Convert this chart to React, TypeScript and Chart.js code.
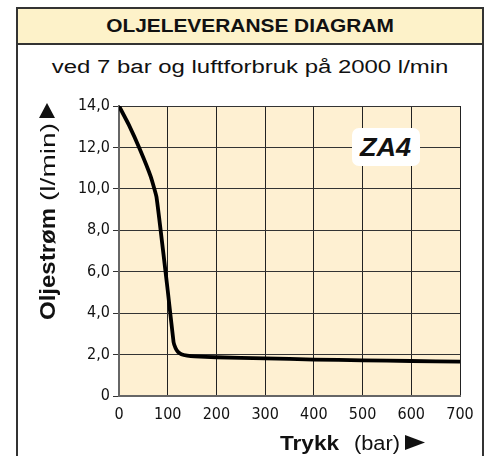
import React, { useEffect, useRef } from "react";
import { Chart, registerables } from "chart.js";

Chart.register(...registerables);

const pressure = [0, 20, 43, 65, 77, 100, 112, 116, 121, 128, 140, 155, 200, 300, 400, 500, 600, 700];
const oilFlow = [14.0, 13.1, 11.9, 10.6, 9.6, 5.1, 2.6, 2.32, 2.13, 2.02, 1.95, 1.91, 1.87, 1.82, 1.76, 1.72, 1.69, 1.66];
const yTicks = [0, 2, 4, 6, 8, 10, 12, 14];
const xTicks = [0, 100, 200, 300, 400, 500, 600, 700];
const title = "OLJELEVERANSE DIAGRAM";
const subtitle = "ved 7 bar og luftforbruk på 2000 l/min";
const modelLabel = "ZA4";
const yTitleMain = "Oljestrøm";
const yTitleUnit = "(l/min)";
const xTitleMain = "Trykk";
const xTitleUnit = "(bar)";

const NARROW = '"Liberation Sans Narrow", "DejaVu Sans Condensed", Arial, sans-serif';
const SANS = '"Liberation Sans", Arial, sans-serif';

function fitText(ctx: CanvasRenderingContext2D, text: string, font: string, x: number, y: number, w: number) {
  ctx.font = font;
  const m = ctx.measureText(text).width;
  ctx.save();
  ctx.translate(x, y);
  ctx.scale(w / m, 1);
  ctx.fillText(text, 0, 0);
  ctx.restore();
}

export default function App() {
  const ref = useRef<HTMLCanvasElement>(null);

  useEffect(() => {
    const canvas = ref.current!;
    const bgPlugin = {
      id: "bg",
      beforeDraw(chart: any) {
        const { ctx, chartArea: a } = chart;
        ctx.save();
        ctx.fillStyle = "#FEF0D2";
        ctx.fillRect(a.left, a.top, a.right - a.left, a.bottom - a.top);
        ctx.restore();
      },
      afterDraw(chart: any) {
        const ctx: CanvasRenderingContext2D = chart.ctx;
        ctx.save();
        ctx.fillStyle = "#111";
        ctx.textBaseline = "alphabetic";
        ctx.textAlign = "left";
        // x axis title
        fitText(ctx, xTitleMain, "bold 21px " + SANS, 280, 450, 59);
        fitText(ctx, xTitleUnit, "20px " + SANS, 354, 450, 46);
        ctx.beginPath();
        ctx.moveTo(405, 435);
        ctx.lineTo(425, 442.5);
        ctx.lineTo(405, 450);
        ctx.closePath();
        ctx.fill();
        // y axis title
        ctx.save();
        ctx.translate(55, 320);
        ctx.rotate(-Math.PI / 2);
        fitText(ctx, yTitleMain, "bold 22px " + SANS, 0, 0, 112);
        fitText(ctx, yTitleUnit, "20px " + SANS, 119, 0, 78);
        ctx.restore();
        ctx.beginPath();
        ctx.moveTo(39, 118);
        ctx.lineTo(47, 103);
        ctx.lineTo(55, 118);
        ctx.closePath();
        ctx.fill();
        ctx.restore();
      },
    };

    const chart = new Chart(canvas, {
      type: "line",
      data: {
        datasets: [
          {
            data: pressure.map((p, i) => ({ x: p, y: oilFlow[i] })),
            borderColor: "#000",
            borderWidth: 3.8,
            pointRadius: 0,
            tension: 0.12,
            fill: false,
          },
        ],
      },
      options: {
        animation: false,
        responsive: false,
        maintainAspectRatio: false,
        layout: { padding: { left: 0, top: 106, right: 26, bottom: 0 } },
        plugins: { legend: { display: false }, tooltip: { enabled: false }, title: { display: false } },
        scales: {
          x: {
            type: "linear",
            min: 0,
            max: 700,
            afterFit(s: any) {
              s.height = 60;
            },
            afterBuildTicks(s: any) {
              s.ticks = xTicks.map((v) => ({ value: v }));
            },
            border: { display: true, color: "#666", width: 2 },
            grid: { color: "#222", lineWidth: 1, tickLength: 0, drawTicks: false },
            ticks: {
              color: "#111",
              font: { family: NARROW, size: 16 },
              padding: 9,
              maxRotation: 0,
              callback: (v: any) => String(v),
            },
          },
          y: {
            type: "linear",
            min: 0,
            max: 14,
            afterFit(s: any) {
              s.width = 119;
            },
            afterBuildTicks(s: any) {
              s.ticks = yTicks.map((v) => ({ value: v }));
            },
            border: { display: true, color: "#666", width: 2 },
            grid: { color: "#333", lineWidth: 1, tickLength: 6, tickColor: "#333" },
            ticks: {
              color: "#111",
              font: { family: NARROW, size: 16 },
              padding: 3,
              callback: (v: any) => (v === 0 ? "0" : Number(v).toFixed(1).replace(".", ",")),
            },
          },
        },
      },
      plugins: [bgPlugin],
    } as any);
    return () => chart.destroy();
  }, []);

  return (
    <div style={{ position: "fixed", left: 0, top: 0, width: 486, height: 456, background: "#fff", overflow: "hidden" }}>
      <div
        style={{
          position: "absolute",
          left: 16,
          top: 7,
          width: 468,
          height: 460,
          border: "2px solid #333",
          boxSizing: "border-box",
        }}
      />
      <div
        style={{
          position: "absolute",
          left: 16,
          top: 7,
          width: 468,
          height: 38,
          background: "#FDF2C9",
          border: "2px solid #333",
          boxSizing: "border-box",
          display: "flex",
          alignItems: "center",
          justifyContent: "center",
          fontFamily: SANS,
          fontWeight: "bold",
          fontSize: 18,
          color: "#111",
        }}
      >
        <span style={{ display: "inline-block", transform: "scaleX(1.16)" }}>{title}</span>
      </div>
      <div
        style={{
          position: "absolute",
          left: 16,
          top: 55,
          width: 468,
          textAlign: "center",
          fontFamily: SANS,
          fontSize: 18,
          color: "#111",
          lineHeight: "24px",
        }}
      >
        <span style={{ display: "inline-block", transform: "scaleX(1.33)" }}>{subtitle}</span>
      </div>
      <canvas ref={ref} width={486} height={456} style={{ position: "absolute", left: 0, top: 0, width: 486, height: 456 }} />
      <div
        style={{
          position: "absolute",
          left: 352,
          top: 128,
          width: 68,
          height: 38,
          background: "#fff",
          borderRadius: 7,
          display: "flex",
          alignItems: "center",
          justifyContent: "center",
          fontFamily: SANS,
          fontWeight: "bold",
          fontStyle: "italic",
          fontSize: 25,
          color: "#111",
        }}
      >
        <span style={{ display: "inline-block", transform: "scaleX(1.08)" }}>{modelLabel}</span>
      </div>
    </div>
  );
}
